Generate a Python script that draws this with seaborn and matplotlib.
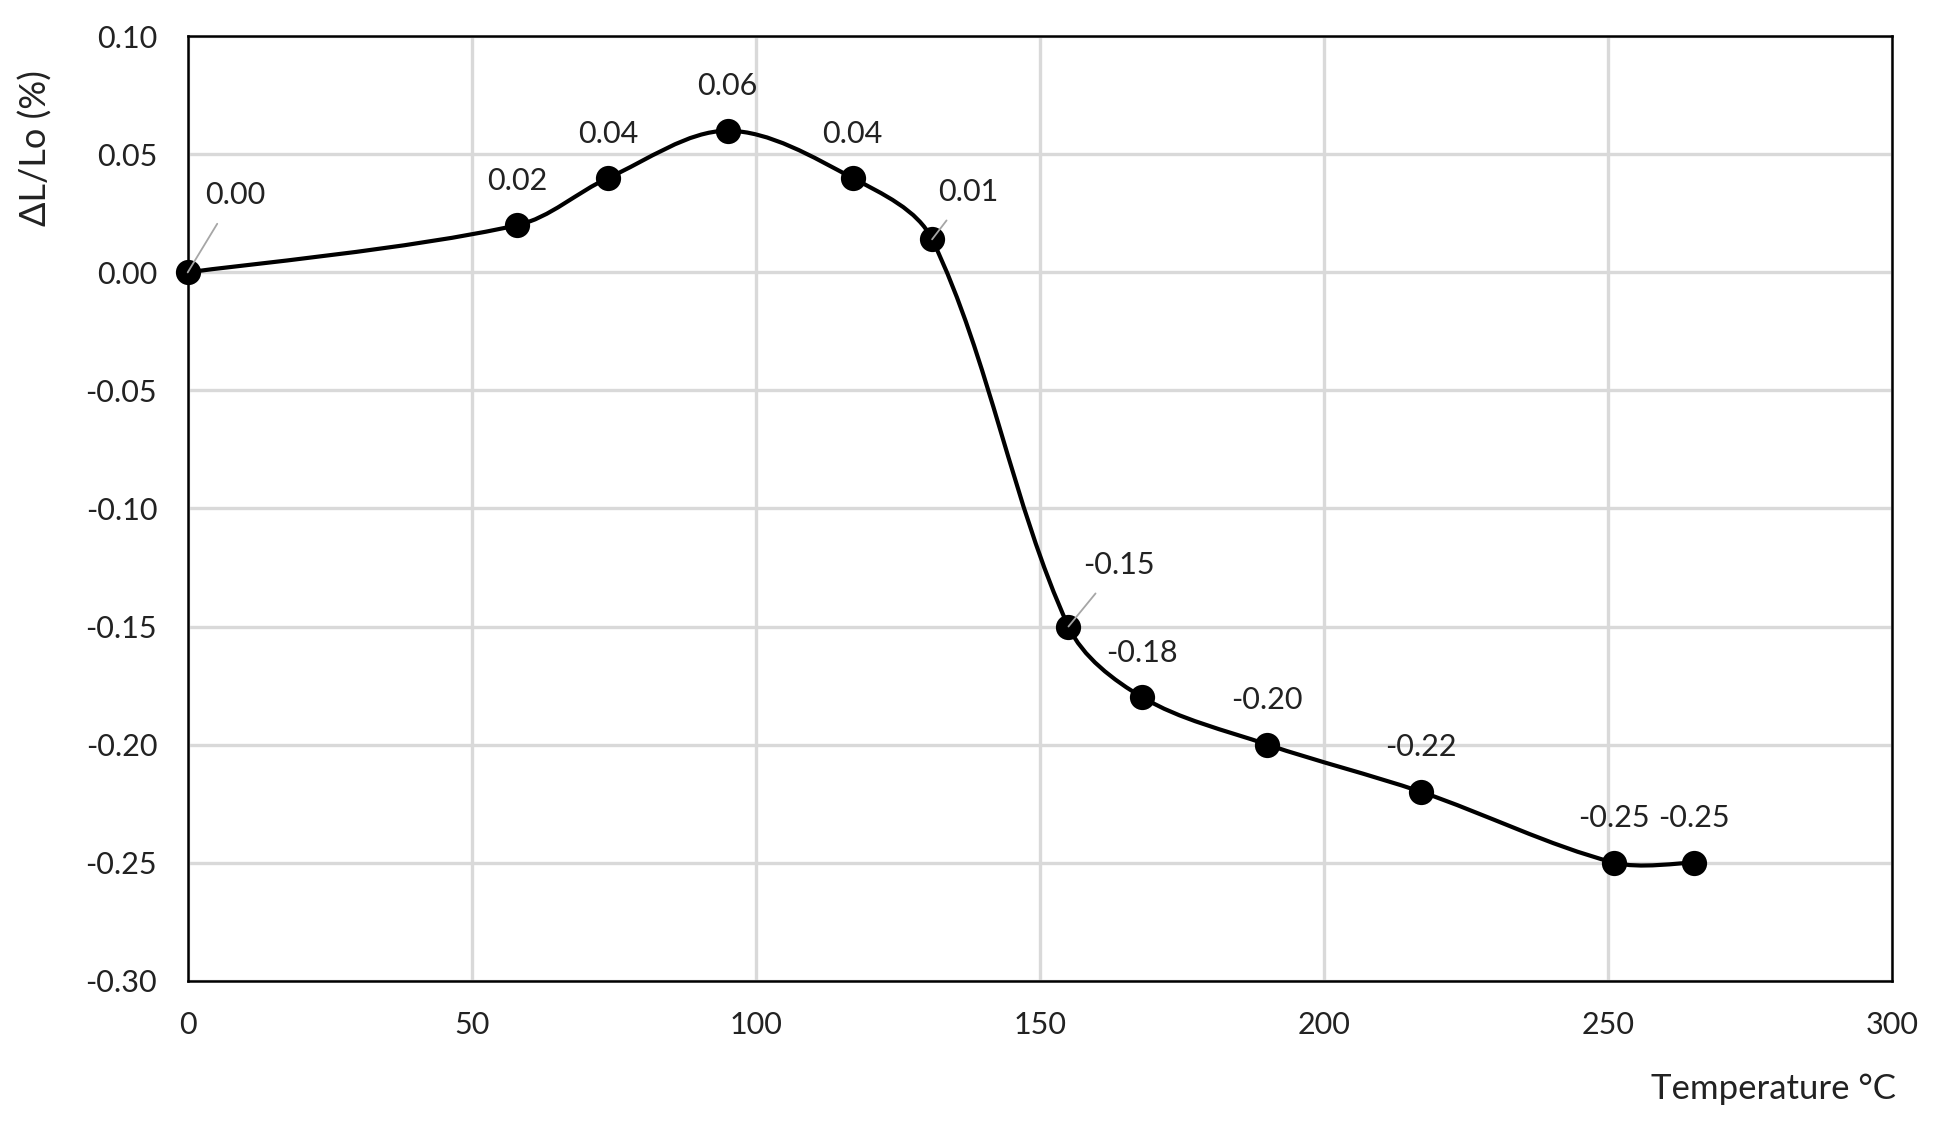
import numpy as np
import matplotlib
matplotlib.use("Agg")
import matplotlib.pyplot as plt
from matplotlib.path import Path
from matplotlib.patches import PathPatch
import seaborn as sns
import pandas as pd

# ---- data ----
temperature = [0, 58, 74, 95, 117, 131, 155, 168, 190, 217, 251, 265]
dl_lo = [0.0, 0.02, 0.04, 0.06, 0.04, 0.014, -0.15, -0.18, -0.20, -0.22, -0.25, -0.25]
x_ticks = [0, 50, 100, 150, 200, 250, 300]
y_ticks = [-0.30, -0.25, -0.20, -0.15, -0.10, -0.05, 0.00, 0.05, 0.10]
# label offsets (points) and whether a leader line is drawn
label_offsets = [(34, 56), (0, 32), (0, 32), (0, 32), (0, 32), (26, 34),
                 (36, 44), (0, 32), (0, 32), (0, 32), (0, 32), (0, 32)]
leaders = [True, False, False, False, False, True, True, False, False, False, False, False]

df = pd.DataFrame({"T": temperature, "dL": dl_lo})

sns.set_theme(style="white")
plt.rcParams['font.family'] = ['Lato', 'DejaVu Sans']

fig = plt.figure(figsize=(19.35, 11.35), dpi=100)
ax = fig.add_axes([0.097, 0.136, 0.881, 0.832])
ax.set_xlim(0, 300)
ax.set_ylim(-0.30, 0.10)

# smooth (Excel-like) curve: cardinal spline with length-weighted tangents,
# computed in display space, then drawn in data coordinates
P = np.column_stack([df["T"].to_numpy(float), df["dL"].to_numpy(float)])
D = ax.transData.transform(P)
n = len(D)
seg = np.linalg.norm(np.diff(D, axis=0), axis=1)
verts = [tuple(D[0])]
codes = [Path.MOVETO]
for i in range(n - 1):
    p1, p2 = D[i], D[i + 1]
    if i > 0:
        t1 = (p2 - D[i - 1]) * seg[i] / (seg[i - 1] + seg[i])
    else:
        t1 = (p2 - p1) * 0.5
    if i + 2 < n:
        t2 = (D[i + 2] - p1) * seg[i] / (seg[i] + seg[i + 1])
    else:
        t2 = (p2 - p1) * 0.5
    c1 = p1 + t1 / 3.0
    c2 = p2 - t2 / 3.0
    verts += [tuple(c1), tuple(c2), tuple(p2)]
    codes += [Path.CURVE4] * 3
verts_data = ax.transData.inverted().transform(np.array(verts))
ax.add_patch(PathPatch(Path(verts_data, codes), facecolor="none", edgecolor="black",
                       lw=3.0, zorder=3))

sns.scatterplot(data=df, x="T", y="dL", ax=ax, color="black", s=330,
                edgecolor="black", linewidth=0, zorder=4, clip_on=False)

for xv, yv, off, lead in zip(temperature, dl_lo, label_offsets, leaders):
    ax.annotate(f"{yv:.2f}", (xv, yv), xytext=off, textcoords="offset points",
                ha="center", va="center", fontsize=22, color="#222222",
                arrowprops=dict(arrowstyle="-", color="#a6a6a6", lw=1.3,
                                shrinkA=10, shrinkB=0) if lead else None,
                zorder=5)

ax.set_xticks(x_ticks)
ax.set_yticks(y_ticks)
ax.set_xticklabels([str(v) for v in x_ticks])
ax.set_yticklabels([f"{v:.2f}" for v in y_ticks])
ax.tick_params(axis="both", length=0, labelsize=22, colors="#222222")
ax.tick_params(axis="x", pad=22)
ax.tick_params(axis="y", pad=22)

ax.grid(True, color="#d9d9d9", lw=2.4)
ax.set_axisbelow(True)
for sp in ax.spines.values():
    sp.set_visible(True)
    sp.set_color("black")
    sp.set_linewidth(1.8)

ax.set_xlabel("Temperature °C", fontsize=25, color="#222222")
ax.xaxis.set_label_coords(1.002, -0.098)
ax.xaxis.label.set_ha("right")
ax.set_ylabel("ΔL/Lo (%)", fontsize=26, color="#222222")
ax.yaxis.set_label_coords(-0.079, 0.882)

fig.savefig("out.png", dpi=100)
